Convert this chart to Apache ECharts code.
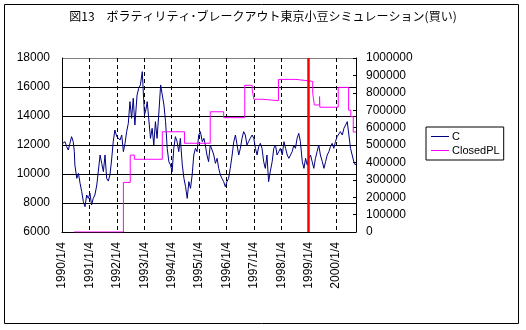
<!DOCTYPE html>
<html><head><meta charset="utf-8">
<script src="https://cdn.jsdelivr.net/npm/echarts@6/dist/echarts.min.js"></script>
<style>html,body{margin:0;padding:0;background:#fff}#c{width:526px;height:330px}</style>
</head><body><div id="c"></div>
<script>
const titleText = '図13　ボラティリティ･ブレークアウト東京小豆シミュレーション(買い)';
const tickLabels = ['1990/1/4','1991/1/4','1992/1/4','1993/1/4','1994/1/4','1995/1/4','1996/1/4','1997/1/4','1998/1/4','1999/1/4','2000/1/4'];
const markerYear = 1999;

const cYears = [1990.02,1990.11,1990.17,1990.23,1990.29,1990.35,1990.41,1990.45,1990.47,1990.54,1990.60,1990.66,1990.72,1990.78,1990.84,1990.90,1990.96,
1991.02,1991.08,1991.14,1991.20,1991.27,1991.33,1991.39,1991.45,1991.51,1991.57,1991.63,1991.69,1991.75,1991.81,1991.87,1991.93,
1992.00,1992.06,1992.12,1992.18,1992.24,1992.30,1992.36,1992.42,1992.48,1992.54,1992.60,1992.66,1992.74,1992.80,1992.86,1992.93,1992.96,
1993.01,1993.06,1993.11,1993.17,1993.23,1993.29,1993.35,1993.41,1993.47,1993.53,1993.60,1993.66,1993.72,1993.78,1993.84,1993.90,1993.96,
1994.02,1994.08,1994.14,1994.20,1994.26,1994.32,1994.39,1994.45,1994.51,1994.57,1994.63,1994.69,1994.75,1994.81,1994.87,1994.93,1994.99,
1995.05,1995.12,1995.18,1995.23,1995.29,1995.35,1995.41,1995.48,1995.54,1995.60,1995.66,1995.72,1995.78,1995.84,1995.90,1995.96,
1996.02,1996.08,1996.14,1996.21,1996.27,1996.33,1996.39,1996.45,1996.51,1996.57,1996.63,1996.69,1996.75,1996.81,1996.87,1996.94,
1997.00,1997.06,1997.12,1997.18,1997.24,1997.30,1997.36,1997.42,1997.48,1997.54,1997.60,1997.67,1997.73,1997.79,1997.85,1997.91,1997.97,
1998.04,1998.10,1998.16,1998.22,1998.28,1998.34,1998.40,1998.46,1998.52,1998.58,1998.64,1998.70,1998.77,1998.83,1998.89,1998.95,
1999.01,1999.07,1999.13,1999.19,1999.25,1999.31,1999.37,1999.43,1999.50,1999.56,1999.62,1999.68,1999.74,1999.80,1999.86,1999.92,1999.98,
2000.04,2000.10,2000.16,2000.23,2000.29,2000.35,2000.41,2000.47,2000.53,2000.59,2000.65,2000.71,2000.73];
const cValues = [12100,12230,11885,11655,12115,12575,12230,11540,10620,9700,10045,9355,8780,8090,7745,8550,8320,
8665,7860,8320,8550,9240,10275,11310,10735,10160,11310,9700,9515,9930,10965,12230,13035,
12575,12690,12345,12690,11540,12115,12920,13495,14990,13840,15220,13380,15450,15910,16140,17060,15910,
14070,14415,14990,13725,12460,13150,12000,13610,12460,14070,16140,15450,14760,13610,11770,10850,10620,
10160,11770,12575,12230,11540,12460,10620,9700,9125,8320,9470,9010,9930,11310,11770,11540,12690,
12920,12230,12460,12000,11310,10850,12000,11655,11310,10735,11080,10390,9930,9700,9470,9125,
9470,9700,10390,11310,12230,12690,12000,11310,11770,12460,12920,12690,12000,12230,12460,12690,
12460,11770,11310,11885,12115,11770,10850,10390,11310,9470,10160,10850,11770,12000,11310,11540,11770,
11310,12230,11770,11310,11080,11310,11540,12000,11770,12460,12805,12230,10850,10390,11080,10620,
11080,11310,10850,10390,11080,11540,12000,11310,10850,10390,10850,11310,11540,11885,12115,11770,12230,
12575,12690,12920,12690,13150,13265,13610,12690,11770,11310,10850,10620,10700];

const plYears = [1990.44,1992.24,1992.49,1992.64,1993.66,1994.47,1995.41,1995.90,1996.67,1996.94,1997.00,1997.30,1997.90,1998.54,1999.15,1999.21,1999.40,1999.41,2000.08,2000.46,2000.54,2000.63,2000.73];
const plValues = [0,285000,442000,418000,576000,510000,691000,657000,843000,820000,763000,755000,877000,866000,797000,730000,778000,717000,831000,700000,663000,575000,575000];

const cData = cYears.map((y,i)=>[y,cValues[i]]);
const plData = plYears.map((y,i)=>[y,plValues[i]]);

const FONT = '"Noto Sans CJK JP", "Liberation Sans", sans-serif';
const NUMFONT = '"Liberation Sans", Arial, sans-serif';
const chart = echarts.init(document.getElementById('c'), null, {renderer:'canvas'});
chart.setOption({
  backgroundColor:'#ffffff',
  animation:false,
  textStyle:{fontFamily:FONT},
  title:{text:titleText,left:'center',top:5,textStyle:{fontSize:12,fontWeight:'normal',color:'#000',fontFamily:FONT}},
  graphic:[{type:'rect',shape:{x:4.5,y:4.5,width:514,height:319},style:{fill:null,stroke:'#000',lineWidth:1},silent:true}],
  legend:{data:['C','ClosedPL'],orient:'vertical',left:426,top:127,borderColor:'#000',borderWidth:1,borderRadius:0,
    icon:'rect',itemWidth:18,itemHeight:1,
    padding:[4,4,4,5],itemGap:3,textStyle:{fontSize:11,color:'#000',fontFamily:NUMFONT,padding:[0,0,0,-2]}},
  grid:{left:62,right:170,top:58,bottom:98,containLabel:false},
  xAxis:{type:'value',min:1990,max:2000.73,interval:1,
    axisLine:{show:true,lineStyle:{color:'#000',width:1}},
    axisTick:{show:false},
    axisLabel:{rotate:90,margin:10,fontSize:12,color:'#000',fontFamily:NUMFONT,showMaxLabel:false,
      formatter:v=>{const i=Math.round(v-1990);return Math.abs(v-1990-i)<1e-6?(tickLabels[i]||''):'';}},
    splitLine:{show:true,lineStyle:{color:'#000',width:1,type:[4,3]}}
  },
  yAxis:[
    {type:'value',min:6000,max:18000,interval:2000,position:'left',
     axisLine:{show:true,lineStyle:{color:'#000'}},axisTick:{show:false},
     axisLabel:{fontSize:12,color:'#000',margin:12,fontFamily:NUMFONT,formatter:v=>String(v)},
     splitLine:{show:true,lineStyle:{color:['#000','#000','#000','#000','#000','#000','#808080'],width:1}}},
    {type:'value',min:0,max:1000000,interval:100000,position:'right',
     axisLine:{show:true,lineStyle:{color:'#000'}},axisTick:{show:true,inside:true,length:3,lineStyle:{color:'#000'}},
     axisLabel:{fontSize:12,color:'#000',margin:10,fontFamily:NUMFONT,formatter:v=>String(v)},splitLine:{show:false}}
  ],
  series:[
    {name:'C',type:'line',yAxisIndex:0,data:cData,symbol:'none',lineStyle:{color:'#000080',width:1},itemStyle:{color:'#000080'},
     markLine:{silent:true,symbol:['none','none'],label:{show:false},lineStyle:{color:'#ff0000',width:2.5,type:'solid'},data:[{xAxis:markerYear}]}},
    {name:'ClosedPL',type:'line',yAxisIndex:1,step:'end',data:plData,symbol:'none',lineStyle:{color:'#ff00ff',width:1},itemStyle:{color:'#ff00ff'}}
  ]
});
</script></body></html>
